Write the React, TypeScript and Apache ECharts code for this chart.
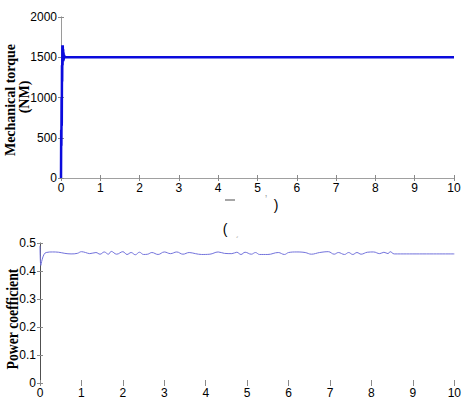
import React, { useEffect, useRef } from "react";
import * as echarts from "echarts";

// Top panel: mechanical torque (NM) vs time (s)
const tTorque = [0, 0.005, 0.01, 0.015, 0.02, 0.025, 0.03, 0.035, 0.04, 0.045, 0.05, 0.055, 0.06, 0.065, 0.07, 0.08, 0.09, 0.1, 1, 2, 3, 4, 5, 6, 7, 8, 9, 10];
const torque = [0, 600, 400, 1000, 650, 1400, 1200, 1650, 1400, 1650, 1450, 1600, 1450, 1560, 1470, 1530, 1490, 1500, 1500, 1500, 1500, 1500, 1500, 1500, 1500, 1500, 1500, 1500];

// Bottom panel: power coefficient vs time (s)
const tCp = [0, 0.02, 0.05, 0.1, 0.15, 0.3, 0.45, 0.6, 0.75, 0.9, 1.0, 1.1, 1.2, 1.35, 1.45, 1.55, 1.65, 1.72, 1.85, 2.0, 2.1, 2.2, 2.3, 2.4, 2.5, 2.6, 2.7, 2.85, 3.0, 3.15, 3.3, 3.45, 3.6, 3.75, 3.9, 4.1, 4.3, 4.45, 4.63, 4.75, 4.85, 4.95, 5.1, 5.2, 5.3, 5.5, 5.75, 5.9, 6.0, 6.2, 6.4, 6.55, 6.75, 6.96, 7.1, 7.2, 7.35, 7.45, 7.55, 7.65, 7.75, 7.9, 8.05, 8.2, 8.3, 8.4, 8.45, 8.55, 8.7, 9.0, 10];
const cp = [0.49, 0.42, 0.44, 0.46, 0.466, 0.468, 0.467, 0.463, 0.461, 0.463, 0.469, 0.466, 0.462, 0.466, 0.46, 0.468, 0.46, 0.47, 0.46, 0.469, 0.459, 0.466, 0.458, 0.467, 0.459, 0.46, 0.466, 0.459, 0.468, 0.462, 0.468, 0.46, 0.466, 0.462, 0.459, 0.46, 0.468, 0.463, 0.462, 0.467, 0.459, 0.467, 0.46, 0.466, 0.459, 0.459, 0.466, 0.459, 0.466, 0.468, 0.466, 0.46, 0.466, 0.469, 0.46, 0.466, 0.459, 0.466, 0.459, 0.466, 0.46, 0.467, 0.468, 0.462, 0.467, 0.462, 0.469, 0.461, 0.461, 0.461, 0.461];

const xTicks = [0, 1, 2, 3, 4, 5, 6, 7, 8, 9, 10];
const torqueTicks = [0, 500, 1000, 1500, 2000];
const cpTicks = [0, 0.1, 0.2, 0.3, 0.4, 0.5];

const labelFont = { fontFamily: "Liberation Sans, Arial, sans-serif", fontSize: 12, color: "#000" };

export default function App() {
  const ref = useRef<HTMLDivElement>(null);
  useEffect(() => {
    if (!ref.current) return;
    const chart = echarts.init(ref.current, undefined, { renderer: "svg" });
    const tick = (color: string) => ({ show: true, inside: true, length: 3, lineStyle: { color, width: 1 } });
    const xBase = (gridIndex: number, position: "bottom" | "top", labels: boolean, lineColor: string | null) => ({
      type: "value",
      gridIndex,
      position,
      min: xTicks[0],
      max: xTicks[xTicks.length - 1],
      interval: 1,
      axisLine: lineColor ? { show: true, lineStyle: { color: lineColor, width: 1 } } : { show: false },
      axisTick: tick("#8a8a8a"),
      axisLabel: labels ? { show: true, margin: 4, ...labelFont } : { show: false },
      splitLine: { show: false },
    });
    const yBase = (gridIndex: number, position: "left" | "right", ticks: number[], labels: boolean, lineColor: string | null, fmt?: (v: number) => string) => ({
      type: "value",
      gridIndex,
      position,
      min: ticks[0],
      max: ticks[ticks.length - 1],
      interval: ticks[1] - ticks[0],
      axisLine: lineColor ? { show: true, lineStyle: { color: lineColor, width: 1 } } : { show: false },
      axisTick: tick("#8a8a8a"),
      axisLabel: labels ? { show: true, margin: 4, ...labelFont, formatter: fmt } : { show: false },
      splitLine: { show: false },
    });
    chart.setOption({
      animation: false,
      backgroundColor: "#fff",
      grid: [
        { left: 61, top: 17, width: 393, height: 161 },
        { left: 40, top: 243, width: 415, height: 142 },
      ],
      xAxis: [
        xBase(0, "bottom", true, null),
        xBase(0, "top", false, "#a0a0a0"),
        xBase(1, "bottom", true, null),
        xBase(1, "top", false, null),
      ],
      yAxis: [
        yBase(0, "left", torqueTicks, true, "#b0b0b0", (v: number) => String(v)),
        yBase(0, "right", torqueTicks, false, "#9a9a9a"),
        yBase(1, "left", cpTicks, true, null, (v: number) => (v === 0 ? "0" : String(Number(v.toFixed(1))))),
        yBase(1, "right", cpTicks, false, "#505050"),
      ],
      series: [
        {
          type: "line",
          xAxisIndex: 0,
          yAxisIndex: 0,
          data: tTorque.map((t, i) => [t, torque[i]]),
          showSymbol: false,
          lineStyle: { color: "#0b0bdc", width: 2.5 },
        },
        {
          type: "line",
          xAxisIndex: 2,
          yAxisIndex: 2,
          data: tCp.map((t, i) => [t, cp[i]]),
          showSymbol: false,
          smooth: 0.4,
          lineStyle: { color: "#7272dc", width: 1 },
        },
      ],
      graphic: [
        {
          type: "text",
          x: 10,
          y: 100,
          rotation: Math.PI / 2,
          style: { text: "Mechanical torque", font: "bold 14px 'Liberation Serif', 'Times New Roman', serif", fill: "#000", align: "center", verticalAlign: "middle" },
        },
        {
          type: "text",
          x: 24,
          y: 97,
          rotation: Math.PI / 2,
          style: { text: "(NM)", font: "bold 14px 'Liberation Serif', 'Times New Roman', serif", fill: "#000", align: "center", verticalAlign: "middle" },
        },
        {
          type: "text",
          x: 13,
          y: 319,
          rotation: Math.PI / 2,
          scaleX: 0.86,
          style: { text: "Power coefficient", font: "bold 16px 'Liberation Serif', 'Times New Roman', serif", fill: "#000", align: "center", verticalAlign: "middle" },
        },
        {
          type: "line",
          shape: { x1: 225, y1: 200, x2: 235, y2: 200 },
          style: { stroke: "#888", lineWidth: 1.5 },
        },
        {
          type: "text",
          x: 266,
          y: 199,
          style: { text: "ʼ", font: "10px 'Liberation Sans', sans-serif", fill: "#999", align: "center", verticalAlign: "middle" },
        },
        {
          type: "text",
          x: 276,
          y: 205,
          style: { text: ")", font: "14px 'Liberation Sans', sans-serif", fill: "#000", align: "center", verticalAlign: "middle" },
        },
        {
          type: "text",
          x: 225,
          y: 229,
          style: { text: "(", font: "14px 'Liberation Sans', sans-serif", fill: "#000", align: "center", verticalAlign: "middle" },
        },
        {
          type: "text",
          x: 237,
          y: 232,
          style: { text: "ˏ", font: "10px 'Liberation Sans', sans-serif", fill: "#aaa", align: "center", verticalAlign: "middle" },
        },
      ],
    });
    return () => chart.dispose();
  }, []);
  return <div ref={ref} style={{ position: "fixed", left: 0, top: 0, width: 464, height: 399 }} />;
}
